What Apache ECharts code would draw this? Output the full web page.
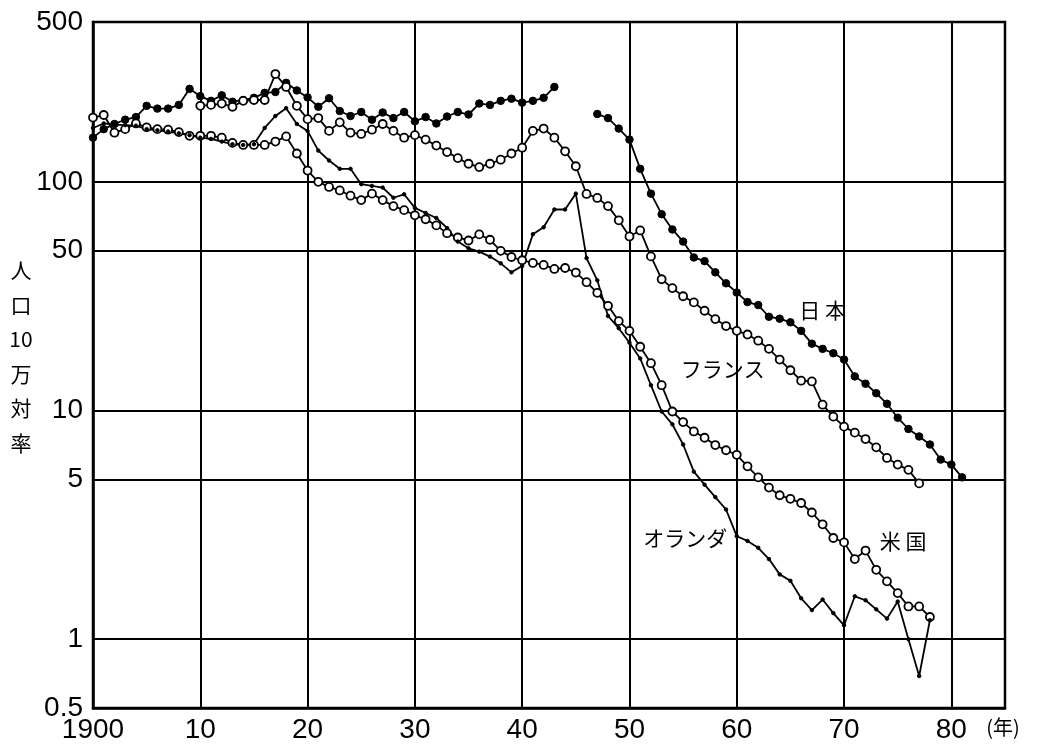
<!DOCTYPE html>
<html><head><meta charset="utf-8">
<script src="https://cdn.jsdelivr.net/npm/echarts@6/dist/echarts.min.js"></script>
<style>html,body{margin:0;padding:0;background:#fff}#c{width:1041px;height:750px}</style>
</head><body><div id="c"></div>
<script>
// ---- axis ticks ----
const yTickValues = [0.5, 1, 5, 10, 50, 100, 500];
const yTickLabels = ['0.5', '1', '5', '10', '50', '100', '500'];
const xTickYears = [1900, 1910, 1920, 1930, 1940, 1950, 1960, 1970, 1980];
const xTickLabels = ['1900', '10', '20', '30', '40', '50', '60', '70', '80'];

// ---- series (one value per year from the start year; null = no data) ----
const japanStart = 1900;
const japanValues = [156,170,179,187,192,215,209,209,217,255, 237,226,239,224,228,233,245,247,271,251,
  234,213,232,204,194,202,187,201,190,202, 184,192,180,193,202,197,220,217,226,231, 222,226,233,260,
  null,null,null,
  198,190,171, 153,114,88.8,72.2,61.9,54.8,46.7,45.0,40.2,36.0, 32.8,29.8,28.9,25.7,25.2,24.3,22.3,19.6,18.6,17.8,
  16.7,14.1,13.1,11.9,10.7,9.3,8.3,7.7,7.1,6.1, 5.8,5.1];

const franceStart = 1910;
const franceValues = [215,217,220,213,226,228,228,296,260,215, 188,190,167,182,164,162,169,179,167,156,
  160,153,144,135,127,120,116,120,125,133, 141,167,171,156,136,117,88.5,85,78.3,67.9,
  57.7,61.3,47.2,37.5,34.3,31.6,29.7,27.3,25.1,23.4, 22.3,21.5,20.2,18.6,16.7,15.0,13.5,13.4,10.6,9.4,
  8.5,8.0,7.5,6.9,6.2,5.8,5.5,4.8];

const usaStart = 1900;
const usaValues = [191,196,164,170,180,173,170,169,165,159, 159,159,156,148,145,145,145,150,158,133,
  112,100,95,91.7,87,83.2,88.8,83.2,78.3,75.2, 71.4,68.6,64.5,59.6,57.1,55.4,58.9,55.8,49.9,46.9,
  45.4,44.2,43.3,41.6,42.0,40.1,36.4,32.7,28.7,24.6, 22.3,19.0,16.1,12.9,9.9,8.9,8.1,7.6,7.06,6.7,
  6.4,5.7,5.1,4.6,4.26,4.11,3.94,3.58,3.18,2.77, 2.65,2.24,2.44,2.01,1.79,1.59,1.39,1.39,1.25];

const netherlandsStart = 1900;
const netherlandsValues = [172,180,178,177,176,170,168,166,163,160, 156,154,150,146,145,146,172,194,210,179,
  167,137,124,114,114,97.7,96,94.4,85.2,88.2, 76.9,73.1,69.5,62.8,54.8,51.2,49.5,47.1,44,40.2,
  42.9,59.0,63.3,75.7,75.7,88.8,46.4,37.1,25.9,22.9, 19.8,16.9,12.9,9.9,8.7,7.1,5.4,4.74,4.18,3.69,
  2.82,2.69,2.51,2.24,1.92,1.80,1.51,1.34,1.49,1.3, 1.15,1.54,1.48,1.35,1.23,1.46,1.0,0.69,1.21];

// label anchors (data coordinates)
const seriesLabels = [
  { text: '日 本', at: [1968.0, 27.5] },
  { text: 'フランス', at: [1958.7, 15.2] },
  { text: '米 国', at: [1975.5, 2.68] },
  { text: 'オランダ', at: [1955.2, 2.77] }
];
const yAxisTitle = '人\n口\n10\n万\n対\n率';
const xAxisUnit = '(年)';

function pairs(start, vals) { return vals.map((v, i) => [start + i, v]); }

const chart = echarts.init(document.getElementById('c'));
const numFont = 'Liberation Sans, Arial, sans-serif';
const jpFont = 'Noto Sans CJK JP';

const lineBase = { type: 'line', connectNulls: false, animation: false, z: 5,
  lineStyle: { color: '#000', width: 1.8 } };

chart.setOption({
  backgroundColor: '#fff',
  grid: { left: 93, right: 36, top: 22, bottom: 42, show: true, borderColor: '#000', borderWidth: 2.5, backgroundColor: 'transparent' },
  xAxis: {
    type: 'value', min: 1900, max: 1985, interval: 10,
    axisLine: { show: true, lineStyle: { color: '#000', width: 2.5 } },
    axisTick: { show: false },
    splitLine: { show: true, lineStyle: { color: '#000', width: 2 } },
    axisLabel: { fontFamily: numFont, fontSize: 28, color: '#000', margin: 8,
      formatter: v => { const i = xTickYears.indexOf(v); return i >= 0 ? xTickLabels[i] : ''; } }
  },
  yAxis: {
    type: 'log', logBase: 10, min: 0.5, max: 500,
    axisLine: { show: true, lineStyle: { color: '#000', width: 2.5 } },
    axisTick: { show: false, customValues: yTickValues },
    splitLine: { show: true, lineStyle: { color: '#000', width: 2 } },
    axisLabel: { customValues: yTickValues, fontFamily: numFont, fontSize: 28, color: '#000', margin: 10,
      formatter: v => { const i = yTickValues.findIndex(t => Math.abs(t - v) < 1e-9); return i >= 0 ? yTickLabels[i] : ''; } }
  },
  series: [
    Object.assign({}, lineBase, { name: '日本', data: pairs(japanStart, japanValues),
      symbol: 'circle', symbolSize: 7.5, itemStyle: { color: '#000', borderColor: '#000' } }),
    Object.assign({}, lineBase, { name: 'フランス', data: pairs(franceStart, franceValues),
      symbol: 'circle', symbolSize: 8, itemStyle: { color: '#fff', borderColor: '#000', borderWidth: 1.8 } }),
    Object.assign({}, lineBase, { name: '米国', data: pairs(usaStart, usaValues),
      symbol: 'circle', symbolSize: 8, itemStyle: { color: '#fff', borderColor: '#000', borderWidth: 1.8 } }),
    Object.assign({}, lineBase, { name: 'オランダ', data: pairs(netherlandsStart, netherlandsValues),
      symbol: 'circle', symbolSize: 3.5, itemStyle: { color: '#000', borderColor: '#000' } })
  ]
});

const g = seriesLabels.map(l => {
  const p = chart.convertToPixel({ gridIndex: 0 }, l.at);
  return { type: 'text', x: p[0], y: p[1], z: 10,
    style: { text: l.text, fontFamily: jpFont, fontSize: 21, fill: '#000', align: 'center', verticalAlign: 'middle' } };
});
g.push({ type: 'text', x: 21, y: 253, z: 10,
  style: { text: yAxisTitle, fontFamily: jpFont, fontSize: 21, lineHeight: 34.5, fill: '#000', align: 'center', verticalAlign: 'top' } });
g.push({ type: 'text', x: 1003, y: 727, z: 10,
  style: { text: xAxisUnit, fontFamily: jpFont, fontSize: 20, fill: '#000', align: 'center', verticalAlign: 'middle' } });
chart.setOption({ graphic: g });
</script></body></html>
